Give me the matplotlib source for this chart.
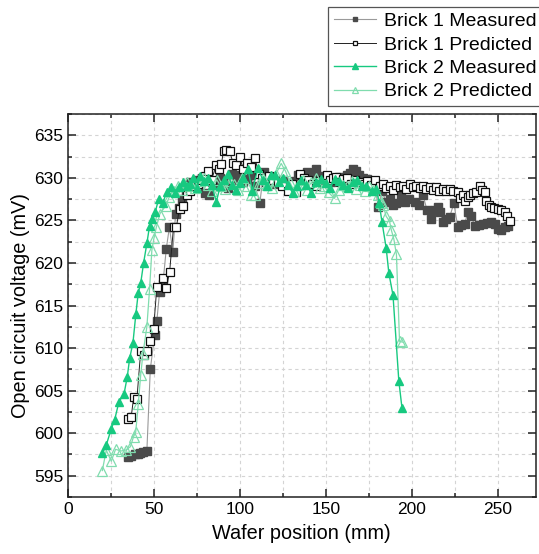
import matplotlib
matplotlib.use("Agg")
import matplotlib.pyplot as plt
from matplotlib.ticker import MultipleLocator

plt.rcParams['font.family'] = ['Liberation Sans', 'DejaVu Sans']

# Brick 1 measured open circuit voltage
b1m_x = [34.9, 36.8, 38.8, 40.8, 42.0, 43.6, 45.9, 47.9, 50.4, 51.7, 53.3, 55.2, 57.2, 59.0, 61.0,
         62.6, 64.5, 66.5, 68.8, 71.0, 73.2, 75.5, 77.8, 79.8, 81.8, 84.0, 86.2, 88.5, 90.8, 93.0,
         95.3, 97.5, 99.8, 102.0, 104.3, 106.5, 108.8, 111.6, 113.8, 116.0, 118.3, 120.5, 122.8, 125.0,
         127.3, 129.5, 131.8, 134.0, 136.6, 139.0, 141.5, 144.0, 146.3, 148.5, 150.8, 153.0, 155.3,
         157.5, 159.8, 162.0, 164.0, 165.8, 167.5, 169.0, 171.5, 173.8, 176.0, 178.3, 180.5, 182.8,
         184.7, 187.0, 189.0, 191.0, 193.8, 196.0, 198.5, 201.6, 204.0, 206.4, 208.8, 211.3, 213.2,
         215.1, 216.5, 218.0, 220.0, 221.9, 224.4, 226.7, 228.6, 230.6, 232.6, 234.5, 236.5, 239.0,
         241.3, 243.8, 246.2, 248.5, 250.0, 252.0, 254.0, 255.8]
b1m_y = [597.2, 597.3, 597.5, 597.6, 597.7, 597.8, 597.9, 607.5, 611.5, 613.2, 616.6, 617.5, 621.7, 624.2, 621.3,
         625.8, 626.5, 627.5, 628.5, 629.5, 629.0, 629.8, 630.0, 628.2, 628.0, 629.5, 629.2, 630.0, 629.5, 628.8,
         630.5, 629.8, 630.3, 629.5, 629.9, 630.3, 629.0, 627.1, 630.7, 629.8, 630.0, 629.3, 629.5, 629.8,
         629.3, 628.8, 629.6, 630.3, 630.3, 630.7, 630.4, 631.0, 630.2, 629.8, 630.0, 629.5, 629.8,
         630.1, 629.7, 630.3, 630.6, 631.1, 630.8, 630.4, 630.0, 629.9, 629.5, 629.2, 626.6, 628.5,
         627.2, 627.5, 626.8, 627.0, 628.0, 627.2, 627.5, 627.2, 626.8, 628.0, 626.2, 625.2, 626.2,
         626.6, 626.0, 624.8, 625.2, 625.4, 627.0, 624.2, 624.5, 624.6, 626.0, 625.5, 624.4, 624.5,
         624.6, 624.7, 624.8, 624.6, 624.0, 623.9, 624.2, 624.4]

# Brick 1 predicted open circuit voltage
b1p_x = [34.9, 36.8, 38.2, 40.1, 42.3, 44.0, 45.9, 47.9, 49.8, 51.7, 55.2, 57.2, 59.1, 61.4, 63.0,
         64.9, 66.9, 69.0, 71.0, 73.0, 75.5, 77.5, 79.5, 81.5, 83.5, 86.3, 88.0, 89.2, 90.5, 92.1,
         94.0, 95.9, 97.8, 99.8, 102.0, 104.1, 106.6, 108.6, 111.0, 113.0, 115.0, 117.0, 119.5, 122.1,
         124.5, 127.9, 130.0, 132.8, 134.7, 137.0, 139.5, 141.8, 144.0, 146.0, 148.3, 150.5, 152.5,
         154.0, 156.0, 158.0, 159.9, 162.0, 164.5, 167.0, 169.6, 172.0, 174.0, 176.2, 178.4, 181.2,
         183.0, 185.0, 187.0, 189.0, 191.0, 193.0, 195.0, 196.8, 198.6, 200.5, 202.5, 204.5, 206.4,
         208.3, 210.3, 212.2, 214.2, 216.0, 218.0, 220.0, 221.9, 224.0, 226.7, 228.2, 229.6, 231.0,
         232.6, 234.0, 235.5, 237.5, 239.4, 241.0, 242.3, 243.3, 245.0, 246.2, 248.0, 250.1, 252.0,
         254.0, 255.0, 256.8]
b1p_y = [601.7, 601.9, 604.2, 604.0, 609.6, 609.2, 609.7, 610.8, 612.2, 617.2, 618.2, 617.1, 618.9, 624.2, 624.2,
         626.4, 626.7, 628.0, 628.5, 629.0, 629.3, 629.8, 630.2, 630.8, 629.8, 631.5, 631.0, 631.6, 633.2, 633.3,
         633.2, 631.8, 631.5, 632.5, 631.0, 631.8, 631.3, 632.4, 630.5, 630.0, 629.5, 630.2, 629.8, 629.5,
         629.0, 628.5, 629.3, 628.3, 630.5, 630.0, 629.8, 629.3, 629.0, 629.6, 629.7, 630.3, 629.8,
         630.0, 630.1, 629.5, 629.9, 630.0, 629.3, 629.8, 629.5, 629.3, 629.6, 629.2, 629.7, 629.1,
         629.3, 628.8, 629.0, 628.6, 629.2, 628.9, 629.0, 628.7, 629.3, 628.9, 629.0, 628.8, 629.1,
         628.7, 628.9, 628.6, 628.9, 628.5, 628.7, 628.5, 628.7, 628.5, 628.3, 627.6, 628.0, 627.3,
         627.7, 628.0, 628.2, 628.3, 629.1, 628.6, 628.3, 627.3, 626.8, 626.6, 626.5, 626.4, 626.2,
         626.0, 625.5, 624.9]

# Brick 2 measured open circuit voltage
b2m_x = [20.0, 22.3, 25.2, 27.2, 29.7, 32.6, 34.5, 35.9, 37.8, 39.5, 40.9, 42.3, 44.0, 45.9, 47.5,
         49.0, 50.8, 52.7, 55.0, 57.6, 60.0, 62.3, 64.5, 66.8, 69.0, 70.8, 73.0, 75.0, 76.9, 79.0,
         81.2, 83.5, 86.3, 88.5, 90.8, 93.0, 95.2, 97.5, 99.8, 102.0, 104.7, 107.2, 110.5, 113.4,
         115.8, 118.2, 120.2, 122.5, 125.0, 127.8, 130.8, 133.2, 135.7, 138.5, 141.5, 144.5, 147.3,
         150.0, 152.5, 155.1, 157.5, 160.0, 162.8, 165.7, 168.0, 170.8, 173.5, 176.5, 179.3, 181.0,
         182.6, 185.0, 186.6, 189.0, 192.4, 194.2]
b2m_y = [597.7, 598.6, 600.5, 601.6, 603.7, 604.6, 606.6, 608.8, 610.6, 614.0, 616.5, 617.6, 620.0, 622.3, 624.4,
         625.2, 626.0, 627.5, 627.0, 628.4, 628.9, 628.2, 628.9, 629.5, 629.0, 629.3, 630.0, 628.8, 630.2, 629.6,
         630.0, 629.2, 627.2, 629.0, 629.8, 630.5, 629.2, 628.6, 629.4, 630.0, 631.0, 628.5, 631.2, 629.7,
         629.0, 630.3, 630.3, 629.5, 630.0, 629.2, 628.2, 629.0, 629.7, 629.2, 628.2, 629.5, 629.9,
         629.4, 628.8, 629.9, 629.6, 629.2, 628.8, 629.5, 629.8, 629.0, 629.1, 628.5, 628.7, 627.0,
         624.8, 621.8, 618.8, 616.2, 606.1, 603.0]

# Brick 2 predicted open circuit voltage
b2p_x = [20.0, 22.3, 25.2, 27.7, 30.9, 33.5, 36.3, 38.2, 39.4, 40.9, 42.3, 43.6, 45.9, 47.5, 48.8,
         50.0, 51.4, 53.5, 56.8, 59.0, 61.5, 64.0, 66.5, 69.0, 71.5, 74.0, 76.5, 79.0, 81.5, 84.0,
         86.5, 89.0, 91.5, 94.0, 96.5, 99.0, 101.5, 104.0, 106.5, 108.6, 111.0, 113.5, 116.0, 118.5,
         121.0, 124.0, 126.5, 129.0, 131.5, 134.0, 136.5, 139.0, 141.5, 144.0, 146.5, 149.0, 151.5,
         155.0, 157.5, 160.0, 162.5, 165.0, 167.5, 170.0, 172.5, 175.0, 177.5, 180.0, 181.8, 183.2,
         185.0, 187.0, 188.0, 189.5, 191.0, 192.8, 194.4]
b2p_y = [595.6, 598.0, 596.7, 598.1, 597.9, 598.0, 598.4, 599.6, 600.1, 603.4, 606.8, 609.3, 612.5, 617.0, 621.5,
         622.9, 624.2, 625.8, 626.7, 627.8, 628.5, 629.0, 628.6, 629.5, 629.0, 628.8, 629.6, 630.0, 629.2, 628.5,
         629.8, 629.0, 628.7, 629.6, 629.3, 628.6, 630.0, 629.0, 628.0, 628.0, 629.4, 630.0, 629.2, 628.8,
         630.5, 631.7, 630.8, 629.5, 628.5, 629.2, 629.8, 628.6, 629.5, 630.0, 628.8, 629.0, 628.3,
         627.6, 628.6, 629.2, 629.0, 629.6, 628.7, 629.2, 628.5, 629.0, 628.6, 628.0, 627.0, 626.8,
         625.5, 624.9, 623.9, 622.8, 621.0, 610.8, 610.7]

fig = plt.figure(figsize=(5.39, 5.54), dpi=100)
ax = fig.add_axes([0.126, 0.103, 0.868, 0.691])

green = '#17c980'
light_green = '#80dcae'

ax.plot(b1m_x, b1m_y, '-s', color='#9a9a9a', lw=0.8, ms=5.4,
        mfc='#4a4a4a', mec='#4a4a4a', label='Brick 1 Measured', zorder=3)
ax.plot(b1p_x, b1p_y, '-s', color='#222222', lw=0.7, ms=5.4,
        mfc='white', mec='#111111', mew=0.9, label='Brick 1 Predicted', zorder=4)
ax.plot(b2m_x, b2m_y, '-^', color=green, lw=1.0, ms=6.3,
        mfc=green, mec=green, label='Brick 2 Measured', zorder=5)
ax.plot(b2p_x, b2p_y, '-^', color=light_green, lw=0.9, ms=6.8,
        mfc='none', mec=light_green, mew=0.9, label='Brick 2 Predicted', zorder=4)

ax.set_xlim(0, 272)
ax.set_ylim(592.5, 637.5)
ax.xaxis.set_major_locator(MultipleLocator(50))
ax.xaxis.set_minor_locator(MultipleLocator(25))
ax.yaxis.set_major_locator(MultipleLocator(5))
ax.yaxis.set_minor_locator(MultipleLocator(2.5))

ax.grid(which='both', color='#d4d4d4', ls=(0, (3, 3)), lw=0.8, zorder=0)
ax.set_axisbelow(True)
ax.tick_params(which='both', direction='in', top=True, right=True, labelsize=12.5,
               width=1.1, color='#222222')
ax.tick_params(which='major', length=6)
ax.tick_params(which='minor', length=3)
for s in ax.spines.values():
    s.set_linewidth(1.1)
    s.set_color('#222222')

ax.set_xlabel('Wafer position (mm)', fontsize=14.3, labelpad=5)
ax.set_ylabel('Open circuit voltage (mV)', fontsize=14.3, labelpad=3)

leg = fig.legend(loc='upper right', bbox_to_anchor=(1.014, 0.995), fontsize=14,
                 handlelength=2.2, handletextpad=0.4, borderpad=0.3, labelspacing=0.3,
                 borderaxespad=0.2, fancybox=False, edgecolor='#555555', framealpha=1,
                 markerscale=0.65)
leg.get_frame().set_linewidth(0.9)

fig.savefig('out.png', dpi=100)
